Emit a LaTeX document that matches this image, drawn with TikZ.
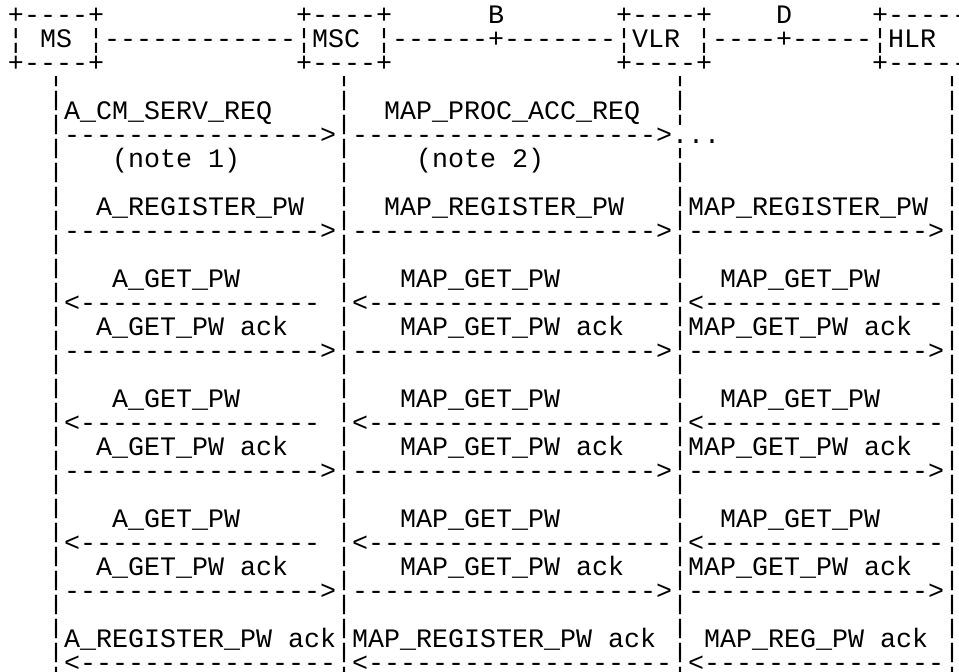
\documentclass[tikz,border=0pt]{standalone}
\usepackage{fontspec}
\setmonofont{Liberation Mono}
\ExplSyntaxOn
\cs_new:Npn \repch #1#2 { \prg_replicate:nn {#1} {#2} }
\ExplSyntaxOff
\tikzset{asc/.style={anchor=base west, inner sep=0pt, outer sep=0pt,
  font=\ttfamily\fontsize{26.67pt}{24pt}\selectfont, text=black}}
% body cell: column, row
\newcommand\cell[4]{\node[asc] (#1) at ({(#2)*16pt},{-23.5pt-(#3)*24pt}) {#4};}
% header cell: shifted right by half a column
\newcommand\hcell[4]{\node[asc] (#1) at ({(#2)*16pt+8pt},{-23.5pt-(#3)*24pt}) {#4};}
\newcommand\vb{¦}
\begin{document}
\begin{tikzpicture}
\fill[white] (0,0) rectangle (959pt,-672pt);
\useasboundingbox (0,0) rectangle (959pt,-672pt);
% row 0
\hcell{msT}{0}{0}{+\repch{4}{-}+}
\hcell{mscT}{18}{0}{+\repch{4}{-}+}
\hcell{labB}{30}{0}{B}
\hcell{vlrT}{38}{0}{+\repch{4}{-}+}
\hcell{labD}{48}{0}{D}
\hcell{hlrT}{54}{0}{+\repch{5}{-}}
% row 1
\hcell{msL}{0}{1}{\vb}
\hcell{ms}{2}{1}{MS}
\hcell{msR}{5}{1}{\vb}
\hcell{ifA}{6}{1}{\repch{12}{-}}
\hcell{mscL}{18}{1}{\vb}
\hcell{msc}{19}{1}{MSC}
\hcell{mscR}{23}{1}{\vb}
\hcell{ifB}{24}{1}{\repch{6}{-}+\repch{7}{-}}
\hcell{vlrL}{38}{1}{\vb}
\hcell{vlr}{39}{1}{VLR}
\hcell{vlrR}{43}{1}{\vb}
\hcell{ifD}{44}{1}{\repch{4}{-}+\repch{5}{-}}
\hcell{hlrL}{54}{1}{\vb}
\hcell{hlr}{55}{1}{HLR}
% row 2
\hcell{msB}{0}{2}{+\repch{4}{-}+}
\hcell{mscB}{18}{2}{+\repch{4}{-}+}
\hcell{vlrB}{38}{2}{+\repch{4}{-}+}
\hcell{hlrB}{54}{2}{+\repch{5}{-}}
% lifelines
\foreach \r in {3,...,27}{
  \cell{lms\r}{3}{\r}{\vb}
  \cell{lmsc\r}{21}{\r}{\vb}
  \cell{lhlr\r}{59}{\r}{\vb}
}
\foreach \r in {3,4,6,7,...,27}{
  \cell{lvlr\r}{42}{\r}{\vb}
}
% rows 4-6
\cell{m1}{4}{4}{A\_CM\_SERV\_REQ}
\cell{m2}{24}{4}{MAP\_PROC\_ACC\_REQ}
\cell{a1}{4}{5}{\repch{16}{-}>}
\cell{a2}{22}{5}{\repch{19}{-}>}
\cell{dots}{42}{5}{...}
\cell{n1}{7}{6}{(note 1)}
\cell{n2}{26}{6}{(note 2)}
% rows 8-9
\cell{r1}{6}{8}{A\_REGISTER\_PW}
\cell{r2}{24}{8}{MAP\_REGISTER\_PW}
\cell{r3}{43}{8}{MAP\_REGISTER\_PW}
\cell{ra1}{4}{9}{\repch{16}{-}>}
\cell{ra2}{22}{9}{\repch{19}{-}>}
\cell{ra3}{43}{9}{\repch{15}{-}>}
% three get-password exchanges
\foreach \k/\b in {1/11,2/16,3/21}{
  \cell{g1\k}{7}{\b}{A\_GET\_PW}
  \cell{g2\k}{25}{\b}{MAP\_GET\_PW}
  \cell{g3\k}{45}{\b}{MAP\_GET\_PW}
  \cell{ga1\k}{4}{\b+1}{<\repch{15}{-}}
  \cell{ga2\k}{22}{\b+1}{<\repch{19}{-}}
  \cell{ga3\k}{43}{\b+1}{<\repch{15}{-}}
  \cell{k1\k}{6}{\b+2}{A\_GET\_PW ack}
  \cell{k2\k}{25}{\b+2}{MAP\_GET\_PW ack}
  \cell{k3\k}{43}{\b+2}{MAP\_GET\_PW ack}
  \cell{ka1\k}{4}{\b+3}{\repch{16}{-}>}
  \cell{ka2\k}{22}{\b+3}{\repch{19}{-}>}
  \cell{ka3\k}{43}{\b+3}{\repch{15}{-}>}
}
% rows 26-27
\cell{e1}{4}{26}{A\_REGISTER\_PW ack}
\cell{e2}{22}{26}{MAP\_REGISTER\_PW ack}
\cell{e3}{44}{26}{MAP\_REG\_PW ack}
\cell{ea1}{4}{27}{<\repch{16}{-}}
\cell{ea2}{22}{27}{<\repch{19}{-}}
\cell{ea3}{43}{27}{<\repch{15}{-}}
\end{tikzpicture}
\end{document}
